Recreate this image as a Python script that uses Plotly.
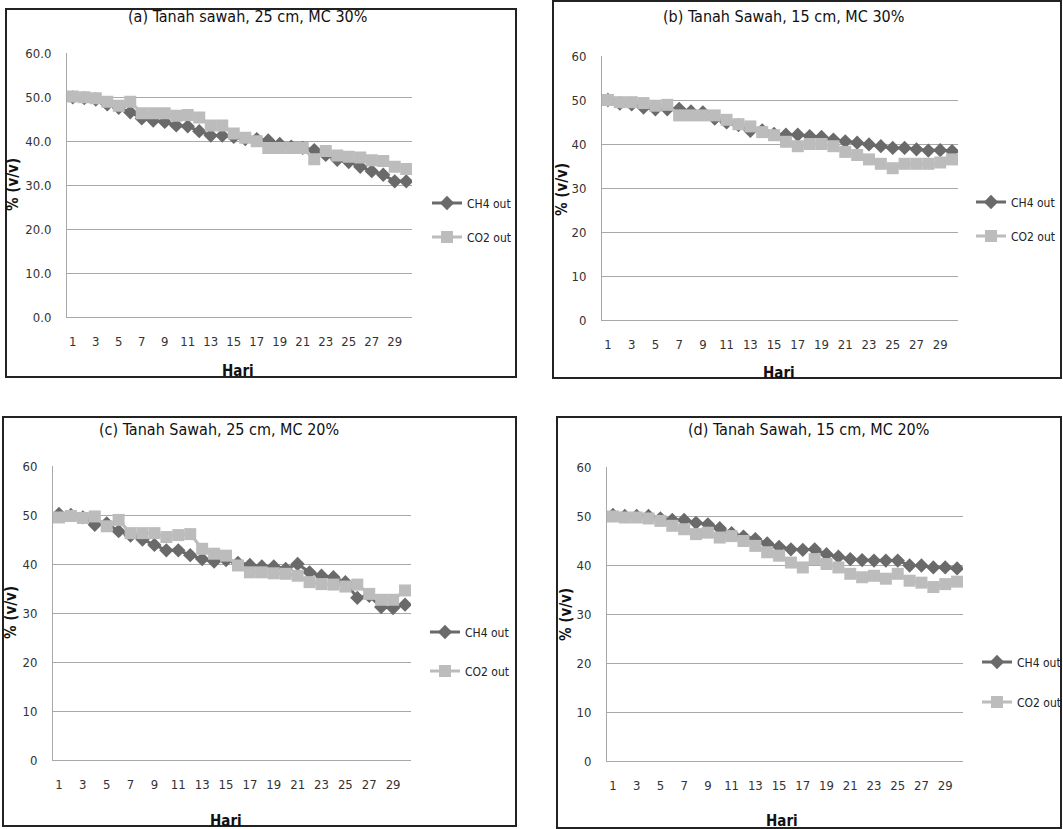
import plotly.graph_objects as go

W, H = 1063, 829

days = list(range(1, 31))
xtick_vals = list(range(1, 30, 2))

# (a) Tanah sawah, 25 cm, MC 30%
ch4_a = [50.0, 49.8, 49.5, 48.4, 47.6, 46.6, 45.2, 44.7, 44.4, 43.6, 43.4, 42.3, 41.3, 41.3, 41.0,
         40.5, 40.5, 40.2, 39.4, 38.8, 38.5, 38.0, 36.9, 35.8, 35.3, 34.2, 33.2, 32.4, 30.9, 30.9]
co2_a = [50.2, 50.0, 49.8, 49.0, 48.1, 49.0, 46.4, 46.4, 46.4, 45.8, 46.0, 45.4, 43.6, 43.6, 41.8,
         40.8, 40.0, 38.5, 38.5, 38.5, 38.5, 35.9, 37.8, 36.8, 36.5, 36.3, 35.7, 35.5, 34.2, 33.7]

# (b) Tanah Sawah, 15 cm, MC 30%
ch4_b = [50.0, 49.2, 49.0, 48.3, 47.9, 47.9, 48.0, 47.4, 47.2, 45.8, 44.9, 44.3, 43.0, 43.1, 42.3,
         42.1, 42.1, 41.8, 41.6, 41.0, 40.6, 40.3, 39.9, 39.5, 39.1, 39.1, 38.8, 38.5, 38.6, 38.4]
co2_b = [50.0, 49.5, 49.5, 49.3, 48.7, 48.9, 46.5, 46.5, 46.5, 46.5, 45.5, 44.5, 44.0, 42.7, 42.0,
         40.5, 39.5, 40.0, 40.0, 39.5, 38.2, 37.5, 36.5, 35.5, 34.5, 35.5, 35.5, 35.5, 35.8, 36.5]

# (c) Tanah Sawah, 25 cm, MC 20%
ch4_c = [50.2, 50.0, 49.5, 48.0, 48.3, 46.7, 45.8, 45.0, 43.9, 42.8, 42.8, 41.8, 41.0, 40.5, 40.8,
         40.2, 39.8, 39.5, 39.5, 39.0, 40.0, 38.3, 37.6, 37.3, 36.3, 33.1, 33.5, 31.2, 31.0, 31.7]
co2_c = [49.5, 49.8, 49.4, 49.7, 47.7, 49.0, 46.3, 46.3, 46.3, 45.5, 45.9, 46.1, 43.1, 42.1, 41.7,
         39.7, 38.3, 38.3, 38.1, 38.0, 37.6, 36.3, 35.9, 35.8, 35.4, 35.8, 33.9, 32.7, 32.7, 34.6]

# (d) Tanah Sawah, 15 cm, MC 20%
ch4_d = [50.2, 50.0, 50.0, 50.0, 49.5, 49.2, 49.2, 48.6, 48.3, 47.5, 46.5, 45.8, 45.3, 44.4, 43.7,
         43.2, 43.1, 43.2, 42.2, 41.7, 41.2, 41.0, 40.9, 40.9, 40.9, 39.9, 39.9, 39.5, 39.5, 39.3]
co2_d = [49.9, 49.7, 49.7, 49.5, 49.0, 48.0, 47.3, 46.3, 46.6, 45.6, 45.9, 44.9, 43.9, 42.6, 41.9,
         40.5, 39.5, 41.2, 40.2, 39.5, 38.2, 37.5, 37.8, 37.2, 38.2, 36.8, 36.4, 35.5, 36.1, 36.6]

titles = ["(a) Tanah sawah, 25 cm, MC 30%", "(b) Tanah Sawah, 15 cm, MC 30%",
          "(c) Tanah Sawah, 25 cm, MC 20%", "(d) Tanah Sawah, 15 cm, MC 20%"]
series_names = ["CH4 out", "CO2 out"]
ytick_fmt = [".1f", "d", "d", "d"]

FONT = "DejaVu Sans Condensed, Liberation Sans Narrow, Liberation Sans, sans-serif"
CH4_COLOR = "#6a6a6a"
CO2_COLOR = "#bcbcbc"
GRID = "#a8a8a8"


def px(x):
    return x / W


def py(y):
    return 1 - y / H


# pixel geometry of each panel
panels = [
    dict(plot=(67, 412, 53.3, 317.3), box=(6, 516, 9, 377), title=(247, 16),
         ytitle=(13, 185), xtitle=(238, 371), leg=(427, 203, 237)),
    dict(plot=(602, 958, 56, 320), box=(553, 1061, 1, 378), title=(783, 17),
         ytitle=(562, 190), xtitle=(779, 373), leg=(971, 202, 236)),
    dict(plot=(53, 411, 466, 760), box=(3, 516, 417, 826), title=(219, 429),
         ytitle=(11, 613), xtitle=(226, 821), leg=(425, 632, 671)),
    dict(plot=(607, 963, 467, 761), box=(557, 1061, 417, 828), title=(808, 429),
         ytitle=(566, 615), xtitle=(782, 821), leg=(977, 662, 702)),
]

data = [(ch4_a, co2_a), (ch4_b, co2_b), (ch4_c, co2_c), (ch4_d, co2_d)]

fig = go.Figure()
layout = dict(
    width=W, height=H, margin=dict(l=0, r=0, t=0, b=0, autoexpand=False),
    paper_bgcolor="white", plot_bgcolor="white", showlegend=True,
    font=dict(family=FONT, size=13, color="#333333"),
)
shapes = []
annotations = []

for i, (p, (ch4, co2)) in enumerate(zip(panels, data)):
    n = "" if i == 0 else str(i + 1)
    xa, ya = "x" + n, "y" + n
    x0, x1, y0, y1 = p["plot"]
    legA = "legend" if i == 0 else "legend" + str(2 * i + 1)
    legB = "legend" + str(2 * i + 2)

    fig.add_trace(go.Scatter(
        x=days, y=ch4, name=series_names[0], mode="lines+markers", xaxis=xa, yaxis=ya,
        line=dict(color=CH4_COLOR, width=3), legend=legA,
        marker=dict(symbol="diamond", size=11, color=CH4_COLOR)))
    fig.add_trace(go.Scatter(
        x=days, y=co2, name=series_names[1], mode="lines+markers", xaxis=xa, yaxis=ya,
        line=dict(color=CO2_COLOR, width=3), legend=legB,
        marker=dict(symbol="square", size=12, color=CO2_COLOR)))

    layout["xaxis" + n] = dict(
        domain=[px(x0), px(x1)], anchor=ya, range=[0.5, 30.5],
        tickvals=xtick_vals, showgrid=False, zeroline=False,
        showline=True, linecolor=GRID, linewidth=1, ticks="",
        ticklabelstandoff=12, tickfont=dict(family=FONT, size=13, color="#333333"))
    layout["yaxis" + n] = dict(
        domain=[py(y1), py(y0)], anchor=xa, range=[0, 60], dtick=10,
        tickformat=ytick_fmt[i], showgrid=True, gridcolor=GRID, gridwidth=1,
        zeroline=False, showline=True, linecolor=GRID, linewidth=1, ticks="",
        ticklabelstandoff=12, tickfont=dict(family=FONT, size=13, color="#333333"))

    lx, lyA, lyB = p["leg"]
    for key, ly in ((legA, lyA), (legB, lyB)):
        layout[key] = dict(x=px(lx), y=py(ly), xanchor="left", yanchor="middle",
                           bgcolor="rgba(0,0,0,0)", borderwidth=0,
                           font=dict(family=FONT, size=12, color="#222222"))

    bx0, bx1, by0, by1 = p["box"]
    shapes.append(dict(type="rect", xref="paper", yref="paper",
                       x0=px(bx0), x1=px(bx1), y0=py(by1), y1=py(by0),
                       line=dict(color="#222222", width=2), layer="below"))

    tx, ty = p["title"]
    annotations.append(dict(text=titles[i], x=px(tx), y=py(ty), xref="paper", yref="paper",
                            showarrow=False, xanchor="center", yanchor="middle",
                            font=dict(family=FONT, size=16, color="#111111")))
    ax, ay = p["ytitle"]
    annotations.append(dict(text="<b>% (v/v)</b>", x=px(ax), y=py(ay), xref="paper", yref="paper",
                            showarrow=False, textangle=-90, xanchor="center", yanchor="middle",
                            font=dict(family=FONT, size=15, color="#111111")))
    hx, hy = p["xtitle"]
    annotations.append(dict(text="<b>Hari</b>", x=px(hx), y=py(hy), xref="paper", yref="paper",
                            showarrow=False, xanchor="center", yanchor="middle",
                            font=dict(family=FONT, size=15, color="#111111")))

layout["shapes"] = shapes
layout["annotations"] = annotations
fig.update_layout(**layout)

fig.write_html("out.html",
               post_script="document.body.style.margin='0';"
                           "document.body.style.overflow='hidden';")
